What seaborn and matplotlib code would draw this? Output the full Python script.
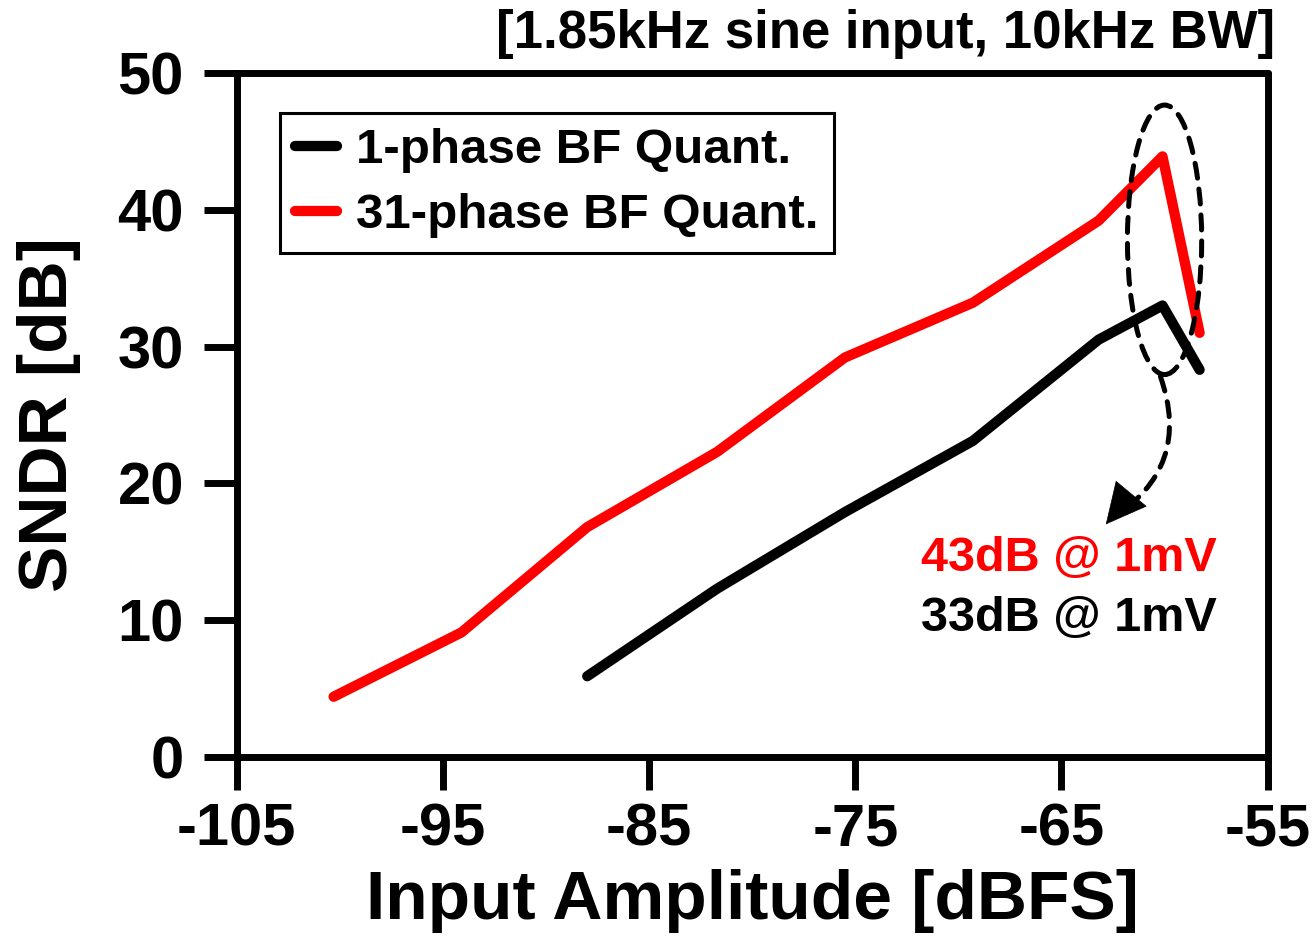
import matplotlib
matplotlib.use("Agg")
import matplotlib.pyplot as plt
from matplotlib.patches import Ellipse, FancyArrowPatch
import seaborn as sns

# data
amp_31 = [-100.3, -94.1, -88.0, -81.7, -75.5, -69.3, -63.2, -60.1, -58.3]
sndr_31 = [4.4, 9.1, 16.8, 22.3, 29.2, 33.2, 39.2, 43.9, 31.0]
amp_1 = [-88.0, -81.7, -75.5, -69.3, -63.2, -60.1, -58.3]
sndr_1 = [5.9, 12.3, 17.9, 23.1, 30.5, 33.0, 28.3]
xticks = [-105, -95, -85, -75, -65, -55]
yticks = [0, 10, 20, 30, 40, 50]

sns.set_style("white")
plt.rcParams["font.family"] = ["Liberation Sans", "DejaVu Sans"]
plt.rcParams["font.weight"] = "bold"
plt.rcParams["axes.unicode_minus"] = False
for k in ["text.color", "axes.labelcolor", "xtick.color", "ytick.color"]:
    plt.rcParams[k] = "black"

fig = plt.figure(figsize=(13.15, 9.47), dpi=100)
ax = fig.add_axes([0.180, 0.2007, 0.784, 0.7223])

lw = 7.4
sns.lineplot(x=amp_1, y=sndr_1, color="black", linewidth=lw, label="1-phase BF Quant.",
             ax=ax, solid_capstyle="round", solid_joinstyle="round")
sns.lineplot(x=amp_31, y=sndr_31, color="#ff0000", linewidth=lw, label="31-phase BF Quant.",
             ax=ax, solid_capstyle="round", solid_joinstyle="round")

ax.set_xlim(-105, -55)
ax.set_ylim(0, 50)
ax.set_xticks(xticks)
ax.set_yticks(yticks)
ax.tick_params(direction="out", length=24, width=5, labelsize=43, color="black",
               labelcolor="black", bottom=True, left=True, top=False, right=False)
ax.tick_params(axis="x", pad=9)
ax.tick_params(axis="y", pad=14)
for lab in ax.get_xticklabels() + ax.get_yticklabels():
    lab.set_fontweight("bold")
for s in ax.spines.values():
    s.set_visible(True)
    s.set_linewidth(5)
    s.set_color("black")
    s.set_capstyle("round")

ax.set_xlabel("Input Amplitude [dBFS]", fontsize=50, fontweight="bold", labelpad=8)
ax.set_ylabel("SNDR [dB]", fontsize=50, fontweight="bold", labelpad=26)

leg = ax.legend(loc="upper left", bbox_to_anchor=(0.042, 0.941), borderaxespad=0,
                fontsize=35.5, frameon=True, fancybox=False, edgecolor="black",
                framealpha=1, handlelength=0.85, handletextpad=0.4, labelspacing=0.4,
                borderpad=0.3)
leg.get_frame().set_linewidth(2.2)
for t in leg.get_texts():
    t.set_fontweight("bold")
    t.set_color("black")

# dashed ellipse around the peaks
dash = (0, (3.0, 2.2))
ell = Ellipse((-60.0, 37.8), 3.6, 19.7, fill=False, edgecolor="black",
              linewidth=3.6, linestyle=dash, zorder=5, capstyle="round")
ax.add_patch(ell)
curve = FancyArrowPatch((-60.2, 27.8), (-62.6, 17.4), connectionstyle="arc3,rad=-0.4",
                        arrowstyle="-", color="black", linewidth=3.6, linestyle=dash,
                        zorder=5, shrinkA=0, shrinkB=0, capstyle="round")
ax.add_patch(curve)
head = FancyArrowPatch((-62.3, 18.0), (-62.85, 17.0), arrowstyle="-|>,head_length=1.4,head_width=0.7",
                       mutation_scale=20, color="black", linewidth=0.5, zorder=5,
                       shrinkA=0, shrinkB=0)
ax.add_patch(head)

ax.text(-71.8, 14.5, "43dB @ 1mV", color="#ff0000", fontsize=35, fontweight="bold",
        ha="left", va="center")
ax.text(-71.8, 10.1, "33dB @ 1mV", color="black", fontsize=35, fontweight="bold",
        ha="left", va="center")

fig.text(0.97, 0.99, "[1.85kHz sine input, 10kHz BW]", fontsize=38, fontweight="bold",
         ha="right", va="top")

fig.savefig("out.png", dpi=100)
